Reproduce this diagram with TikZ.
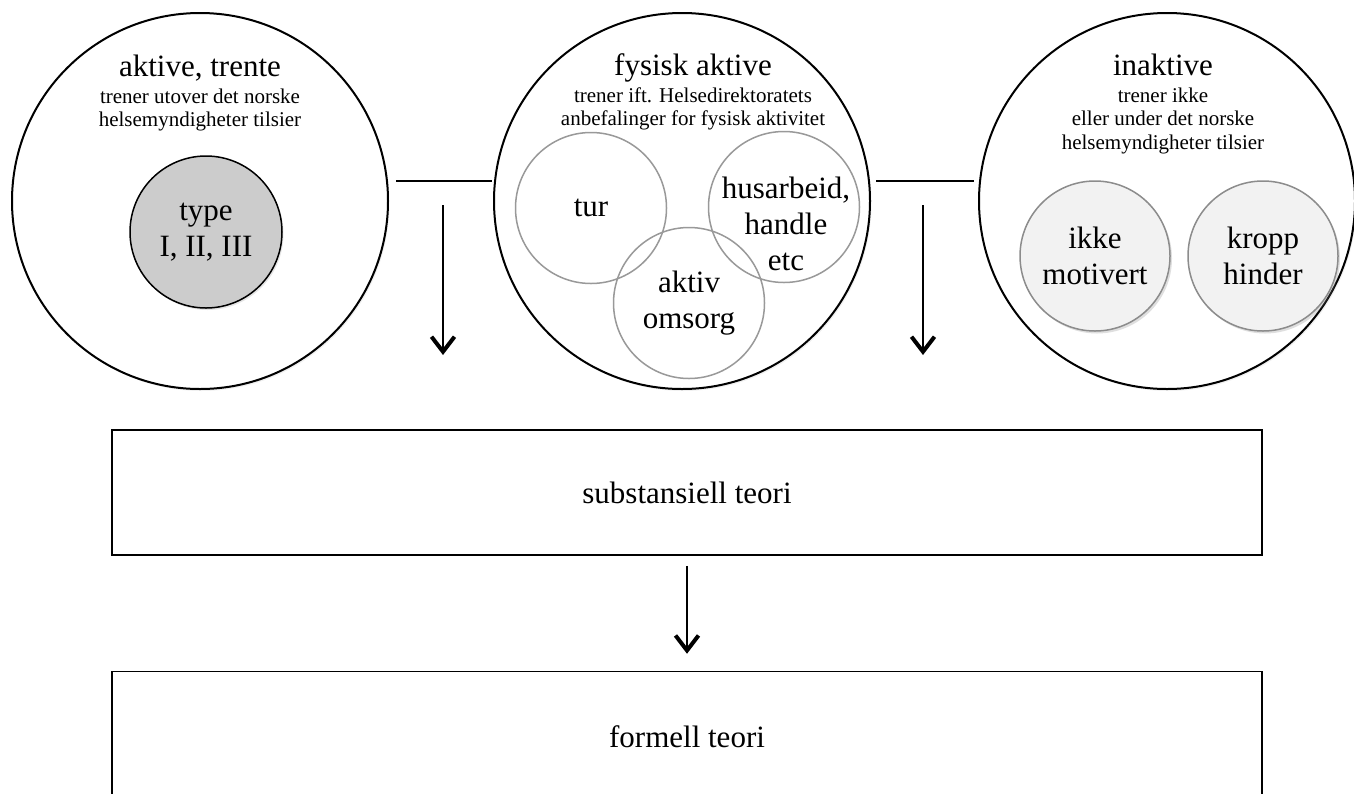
\documentclass[tikz,border=0pt]{standalone}
\usepackage{fontspec}
\setmainfont{Liberation Serif}
\usetikzlibrary{positioning,arrows.meta,shadows}
\tikzset{
big/.style={circle,draw,fill=white,line width=2pt,minimum size=376pt,inner sep=0pt,
  drop shadow={opacity=0.12,shadow xshift=1.5pt,shadow yshift=-2pt}},
ttl/.style={inner sep=0pt,anchor=base,font=\fontsize{31}{35}\selectfont},
sub/.style={inner sep=0pt,anchor=north,align=center,font=\fontsize{21}{23.5}\selectfont},
lbl/.style={inner sep=0pt,align=center,font=\fontsize{31}{36}\selectfont},
ring/.style={lbl,circle,draw=black!40,line width=1.5pt,minimum size=151pt},
dot/.style={lbl,circle,draw=black!45,fill=black!5,line width=1.5pt,minimum size=150pt,
  drop shadow={opacity=0.25,shadow xshift=2pt,shadow yshift=-2.5pt}},
box/.style={draw,line width=1.5pt,minimum width=1150pt,inner sep=0pt,font=\fontsize{31}{35}\selectfont},
arr/.style={line width=2.5pt,-{Straight Barb[length=15pt,width=23pt,line width=4pt]}}
}
\begin{document}
\begin{tikzpicture}[x=1pt,y=1pt,yscale=-1]
\useasboundingbox (0,0) rectangle (1354,793);
%Shape: Circle [aktive, trente]
\node (lc) at (200,201) [big] {};
%Shape: Circle [fysisk aktive]
\node (mc) at (682,201) [big] {};
%Shape: Circle [inaktive]
\node (rc) at (1167,201) [big] {};

% Text Node
\node (lct) at (200,76) [ttl] {aktive, trente};
\node (lcs) at (200,88.5) [sub] {trener utover det norske\\helsemyndigheter tilsier};
\node (mct) at (693,75) [ttl] {fysisk aktive};
\node (mcs) at (693,87.5) [sub] {trener ift. Helsedirektoratets\\anbefalinger for fysisk aktivitet};
\node (rct) at (1163,75) [ttl] {inaktive};
\node (rcs) at (1163,87.5) [sub] {trener ikke\\eller under det norske\\helsemyndigheter tilsier};

%Shape: Circle [type]
\node (typ) at (206,232) [lbl,circle,draw,fill=black!20,line width=1.5pt,minimum size=152pt,
  drop shadow={opacity=0.2,shadow xshift=1.5pt,shadow yshift=-2pt}] {type\\I, II, III};
%Shape: Circle [tur, husarbeid, omsorg]
\node (tur) at (591,208) [ring] {tur};
\node (hus) at (784,207) [ring] {};
\node (oms) at (689,303) [ring] {aktiv\\omsorg};
\node (husl) at (786,224) [lbl] {husarbeid,\\handle\\etc};
%Shape: Circle [ikke motivert, kropp hinder]
\node (mot) at (1095,256) [dot] {ikke\\motivert};
\node (kro) at (1263,256) [dot] {kropp\\hinder};

%Straight Lines
\coordinate (la) at (396,181);
\coordinate (lb) at (492,181);
\coordinate (ra) at (876,181);
\coordinate (rb) at (974,181);
\draw [line width=2pt] (la) -- (lb);
\draw [line width=2pt] (ra) -- (rb);
\coordinate (a1) at (443,205);
\coordinate (b1) at (443,355);
\coordinate (a2) at (923,205);
\coordinate (b2) at (923,355);
\draw [arr] (a1) -- (b1);
\draw [arr] (a2) -- (b2);

%Shape: Rectangle [teori]
\node (subt) at (687,492.5) [box,minimum height=125pt] {substansiell teori};
\node (form) [box,minimum height=130pt,below=115pt of subt] {formell teori};
\draw [arr,line width=2pt] ([yshift=10pt]subt.south) -- ([yshift=-17pt]form.north);
\end{tikzpicture}
\end{document}
